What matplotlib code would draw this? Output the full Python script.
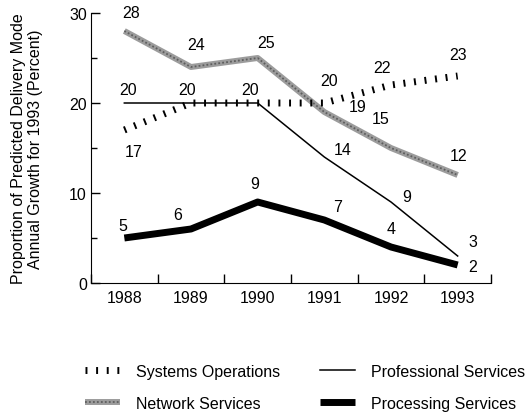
import matplotlib
matplotlib.use("Agg")
import matplotlib.pyplot as plt

plt.rcParams['font.family'] = ['Liberation Sans', 'DejaVu Sans']

years = ['1988', '1989', '1990', '1991', '1992', '1993']
systems_ops = [17, 20, 20, 20, 22, 23]
network = [28, 24, 25, 19, 15, 12]
professional = [20, 20, 20, 14, 9, 3]
processing = [5, 6, 9, 7, 4, 2]

# label offsets in pixels (None = no label, shared with another series)
sys_off = [(9, -22), None, None, (5, 22), (-9, 17), (0, 21)]
net_off = [(7, 18), (5, 22), (8, 15), (33, 5), (-10, 29), (1, 19)]
prof_off = [(4, 13), (-4, 13), (-8, 13), (18, 7), (16, 5), (15, 14)]
proc_off = [(-2, 12), (-13, 14), (-3, 18), (13, 13), (0, 18), (15, -1)]

fs = 11.5
fig = plt.figure(figsize=(5.28, 4.14), dpi=100)
ax = fig.add_axes([91/528, 1-284/414, 400/528, 270/414])
x = list(range(len(years)))

net_base, = ax.plot(x, network, color='#9c9c9c', lw=4.3, solid_capstyle='butt', zorder=2)
net_dots, = ax.plot(x, network, color='#5e5e5e', lw=1.3, ls=(0, (1, 1.2)), zorder=2)
sys_line, = ax.plot(x, systems_ops, color='black', lw=5, ls=(0, (0.28, 1.25)),
                    dash_capstyle='butt', zorder=3)
prof_line, = ax.plot(x, professional, color='black', lw=1.1, zorder=3)
proc_line, = ax.plot(x, processing, color='black', lw=5, solid_capstyle='butt', zorder=3)

for vals, offs in [(systems_ops, sys_off), (network, net_off),
                   (professional, prof_off), (processing, proc_off)]:
    for i, (v, o) in enumerate(zip(vals, offs)):
        if o is None:
            continue
        ax.annotate(str(v), (i, v), xytext=o, textcoords='offset pixels',
                    ha='center', va='center', fontsize=fs)

ax.set_xlim(-0.5, len(years) - 0.5)
ax.set_ylim(0, 30)
ax.spines['top'].set_visible(False)
ax.spines['right'].set_visible(False)
ax.set_xticks([i - 0.5 for i in range(len(years) + 1)])
ax.set_xticklabels([])
ax.set_xticks(x, minor=True)
ax.set_xticklabels(years, minor=True, fontsize=fs)
ax.tick_params(axis='x', which='major', direction='in', length=6.5, width=1)
ax.tick_params(axis='x', which='minor', length=0, pad=5)
ax.set_yticks([0, 10, 20, 30])
ax.set_yticks([5, 15, 25], minor=True)
ax.tick_params(axis='y', which='major', direction='in', length=6.5, width=1, pad=3, labelsize=fs)
ax.tick_params(axis='y', which='minor', direction='in', length=4, width=1)
ax.set_ylabel('Proportion of Predicted Delivery Mode\nAnnual Growth for 1993 (Percent)',
              fontsize=fs, labelpad=19, linespacing=1.15)

fig.legend([sys_line, (net_base, net_dots), prof_line, proc_line],
           ['Systems Operations', 'Network Services', 'Professional Services', 'Processing Services'],
           ncol=2, loc='upper left', bbox_to_anchor=(85/528, 1-365/414), frameon=False,
           fontsize=fs, handlelength=2.2, handletextpad=1.0, columnspacing=2.5,
           labelspacing=1.05, borderpad=0, borderaxespad=0)

fig.savefig('out.png', dpi=100)
